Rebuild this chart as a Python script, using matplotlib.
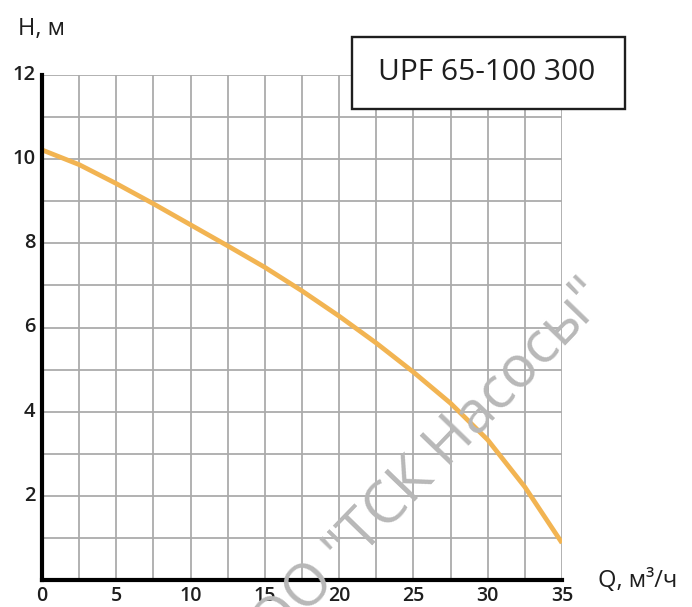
import matplotlib.pyplot as plt
from matplotlib.patches import Rectangle

plt.rcParams['font.family'] = ['Open Sans', 'DejaVu Sans']

# pump curve UPF 65-100 300
q = [0, 2.5, 5, 7.5, 10, 12.5, 15, 17.5, 20, 22.5, 25, 27.5, 30, 32.5, 35]
h = [10.22, 9.87, 9.42, 8.94, 8.44, 7.94, 7.43, 6.87, 6.27, 5.63, 4.94, 4.2, 3.33, 2.21, 0.88]

x_ticks = [0, 5, 10, 15, 20, 25, 30, 35]
y_ticks = [2, 4, 6, 8, 10, 12]
model = "UPF 65-100 300"

fig = plt.figure(figsize=(6.92, 6.07), dpi=100)
ax = fig.add_axes([42 / 692, 1 - 580 / 607, 520 / 692, 505 / 607])

ax.plot(q, h, color="#f2b452", lw=3.4, solid_capstyle="butt", zorder=3)

ax.set_xlim(0, 35)
ax.set_ylim(0, 12)
ax.set_xticks([i * 2.5 for i in range(15)])
ax.set_yticks(range(13))
ax.grid(True, color="#ababab", lw=1.3)
ax.tick_params(length=0)
ax.set_xticklabels([])
ax.set_yticklabels([])

# tick labels
for v in x_ticks:
    ax.text(v, -0.14, str(v), ha="center", va="top", fontsize=14,
            fontweight="semibold", color="#1e1e1e")
for v in y_ticks:
    ax.text(-0.45, v, str(v), ha="right", va="center", fontsize=14.5,
            fontweight="semibold", color="#1e1e1e")

for s in ["top", "right"]:
    ax.spines[s].set_visible(False)
for s in ["left", "bottom"]:
    ax.spines[s].set_linewidth(3)
    ax.spines[s].set_color("black")
    ax.spines[s].set_capstyle("projecting")
    ax.spines[s].set_zorder(4)

fig.text(18 / 692, 1 - 29 / 607, "H, м", fontsize=17, ha="left", va="center", color="#1e1e1e")
fig.text(598 / 692, 1 - 581 / 607, "Q, м³/ч", fontsize=17, ha="left", va="center", color="#1e1e1e")

fig.patches.append(Rectangle((352 / 692, 1 - 109 / 607), 273 / 692, 72 / 607,
                             transform=fig.transFigure, facecolor="white",
                             edgecolor="#1e1e1e", lw=1.7, zorder=5))
fig.text(487 / 692, 1 - 73 / 607, model, fontsize=21.5, ha="center", va="center",
         color="#1e1e1e", zorder=6)

# watermark
fig.text(415 / 692, 1 - 480 / 607, "ООО \"ТСК Насосы\"", fontsize=42, rotation=46,
         ha="center", va="center", rotation_mode="anchor", color="#b8b8b8", zorder=10)

fig.savefig("out.png", dpi=100)
